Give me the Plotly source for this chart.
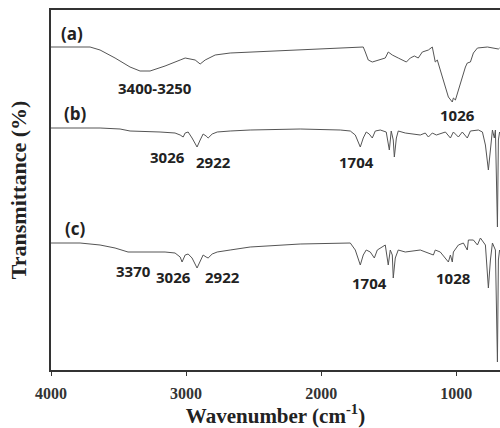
import plotly.graph_objects as go

# ---- data (wavenumber in cm-1, transmittance in arbitrary offset units) ----
wn_a = [4000, 3711, 3637, 3526, 3415, 3341, 3267, 3156, 3044, 3007, 2933, 2896, 2859, 2785, 2674, 2526,
        2156, 1859, 1689, 1674, 1652, 1622, 1578, 1526, 1504, 1474, 1430, 1393, 1370, 1341, 1311, 1282,
        1252, 1207, 1178, 1156, 1141, 1119, 1081, 1059, 1030, 1022, 1007, 985, 956, 933, 919, 896, 874,
        844, 770, 689, 680]
t_a = [323, 323, 320, 312, 303, 299, 299, 304, 310, 312, 310, 306, 310, 315, 317, 318,
       320, 322, 323, 318, 310, 308, 310, 312, 318, 315, 312, 310, 308, 312, 314, 312,
       318, 320, 323, 308, 310, 300, 283, 273, 268, 272, 270, 280, 293, 303, 307, 308, 317,
       322, 323, 321, 322]

wn_b = [4000, 3637, 3489, 3415, 3193, 3082, 3044, 3022, 3007, 2985, 2956, 2919, 2896, 2874, 2852, 2837,
        2807, 2770, 2674, 2526, 2156, 1859, 1785, 1748, 1711, 1689, 1667, 1645, 1622, 1600, 1563, 1519,
        1496, 1482, 1467, 1459, 1444, 1430, 1378, 1326, 1267, 1230, 1207, 1178, 1148, 1081, 1044, 1022,
        985, 956, 919, 896, 837, 807, 785, 763, 748, 733, 719, 711, 696, 689, 680]
t_b = [242, 242, 241, 239, 238, 237, 235, 233, 237, 238, 232, 223, 230, 236, 234, 232,
       236, 238, 239, 240, 241, 240, 239, 235, 223, 232, 238, 236, 232, 239, 240, 238,
       220, 239, 230, 213, 232, 239, 237, 236, 235, 237, 233, 237, 235, 238, 232, 238,
       233, 238, 232, 239, 240, 238, 225, 200, 220, 240, 232, 240, 143, 230, 238]

wn_c = [4000, 3785, 3637, 3526, 3430, 3267, 3156, 3082, 3044, 3030, 3007, 2985, 2956, 2919, 2896, 2874,
        2852, 2837, 2807, 2770, 2674, 2526, 2156, 1785, 1748, 1711, 1689, 1667, 1637, 1607, 1585, 1526,
        1504, 1489, 1474, 1467, 1452, 1430, 1378, 1326, 1267, 1170, 1156, 1119, 1081, 1059, 1044, 1030,
        1022, 985, 948, 919, 911, 874, 844, 822, 785, 770, 763, 748, 733, 711, 696, 689, 680]
t_c = [127, 127, 125, 122, 118, 118, 118, 117, 113, 108, 115, 116, 112, 102, 108, 115,
       113, 112, 116, 118, 120, 123, 126, 127, 120, 105, 115, 120, 118, 112, 120, 125,
       105, 120, 115, 92, 112, 120, 118, 119, 120, 115, 120, 118, 112, 108, 115, 108,
       118, 125, 127, 120, 130, 130, 125, 132, 125, 100, 82, 110, 127, 120, 8, 110, 120]

tick_vals = [4000, 3000, 2000, 1000]
tick_text = ["4000", "3000", "2000", "1000"]

# labels: (text, wavenumber, y, size)
labels = [
    ("(a)", 3844, 337, 17), ("3400-3250", 3230, 282, 15), ("1026", 993, 255, 15),
    ("(b)", 3822, 257, 17), ("3026", 3141, 213, 15), ("2922", 2800, 208, 15), ("1704", 1741, 208, 15),
    ("(c)", 3822, 142, 17), ("3370", 3393, 99, 15), ("3026", 3096, 93, 15), ("2922", 2733, 93, 15),
    ("1704", 1645, 87, 15), ("1028", 1022, 92, 15),
]

line_color = "#555555"
fig = go.Figure()
for wn, t in [(wn_a, t_a), (wn_b, t_b), (wn_c, t_c)]:
    fig.add_trace(go.Scatter(x=wn, y=t, mode="lines", line=dict(color=line_color, width=1),
                             showlegend=False, hoverinfo="skip"))

for txt, x, y, s in labels:
    fig.add_annotation(x=x, y=y, xref="x", yref="y", text="<b>%s</b>" % txt, showarrow=False,
                       font=dict(family="Open Sans", size=s, color="#222222"),
                       xanchor="center", yanchor="middle")

fig.update_layout(
    width=500, height=428,
    margin=dict(l=51, r=0, t=10, b=58),
    paper_bgcolor="white", plot_bgcolor="white",
    xaxis=dict(range=[4000, 677], tickvals=tick_vals, ticktext=["<b>%s</b>" % t for t in tick_text],
               ticks="outside", ticklen=4, tickwidth=1, tickcolor="#333",
               showline=True, linecolor="#333", linewidth=1.5, mirror=True,
               showgrid=False, zeroline=False, ticklabelstandoff=4,
               tickfont=dict(family="Liberation Serif", size=16, color="#333"),
               title=dict(text="<b>Wavenumber (cm<sup>-1</sup>)</b>", standoff=10,
                          font=dict(family="Liberation Serif", size=21, color="#222"))),
    yaxis=dict(range=[0, 360], showticklabels=False, ticks="", showline=True, linecolor="#333",
               linewidth=1.5, showgrid=False, zeroline=False,
               title=dict(text="<b>Transmittance (%)</b>", standoff=17,
                          font=dict(family="Liberation Serif", size=22, color="#222"))),
)

fig.write_html("out.html")
